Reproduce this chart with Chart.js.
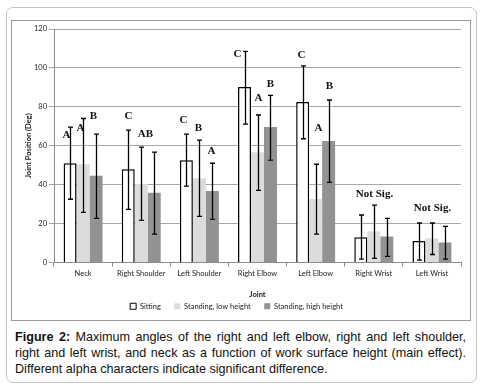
<!DOCTYPE html>
<html lang="en">
<head>
  <meta charset="UTF-8">
  <title>Joint Position Chart</title>
  <style>
    body { margin: 0; background: #fff; width: 482px; height: 392px; position: relative; overflow: hidden; }
    .frame { position: absolute; left: 6px; top: 7px; width: 469px; height: 374px; border: 1px solid #c4c4c4; border-radius: 7px; }
    .inner { position: absolute; left: 11px; top: 20px; width: 458px; height: 299px; border: 1px solid #9a9a9a; }
    .inner canvas { position: absolute; left: 0; top: 0; }
    .caption { position: absolute; left: 15px; top: 329px; width: 451px; font-family: "Liberation Sans", Arial, sans-serif; font-size: 12.6px; line-height: 16px; color: #111; }
    .caption div { text-align: justify; text-align-last: justify; white-space: nowrap; }
    .caption div.last { text-align-last: left; }
  </style>
</head>
<body>

  <div class="frame"></div>
  <div class="inner">
    <canvas id="barChart" width="458" height="299"></canvas>
  </div>
  <div class="caption">
    <div><b>Figure 2:</b> Maximum angles of the right and left elbow, right and left shoulder,</div>
    <div>right and left wrist, and neck as a function of work surface height (main effect).</div>
    <div class="last">Different alpha characters indicate significant difference.</div>
  </div>

  <script src="https://cdn.jsdelivr.net/npm/chart.js@4.4.0/dist/chart.umd.min.js"></script>
  <script>
    // data
    const joints = ['Neck', 'Right Shoulder', 'Left Shoulder', 'Right Elbow', 'Left Elbow', 'Right Wrist', 'Left Wrist'];
    const seriesNames = ['Sitting', 'Standing, low height', 'Standing, high height'];

    const sitting = [51.0, 47.9, 52.6, 90.2, 82.5, 13.0, 11.1];
    const standLow = [50.5, 40.4, 43.3, 56.7, 32.6, 16.0, 12.5];
    const standHigh = [44.6, 35.9, 36.7, 69.6, 62.4, 13.4, 10.3];

    // error bar ends
    const sittingHi = [69.6, 68.0, 66.0, 108.5, 101.0, 24.4, 20.3];
    const sittingLo = [32.5, 27.3, 39.3, 71.1, 63.6, 1.7, 1.2];
    const lowHi = [74.0, 59.3, 62.9, 75.8, 50.5, 29.5, 20.3];
    const lowLo = [25.8, 21.6, 23.7, 37.1, 14.6, 2.1, 4.1];
    const highHi = [66.0, 56.7, 51.0, 85.9, 83.5, 22.7, 18.6];
    const highLo = [22.7, 14.6, 22.2, 52.6, 41.2, 3.1, 1.7];

    // significance letters
    const sittingSig = ['A', 'C', 'C', 'C', 'C', '', ''];
    const lowSig = ['A', 'AB', 'B', 'A', 'A', 'Not Sig.', 'Not Sig.'];
    const highSig = ['B', '', 'A', 'B', 'B', '', ''];

    const yTicks = [0, 20, 40, 60, 80, 100, 120];

    // label placement relative to the top of each error bar (px)
    const sigDx = [
      [-4, 0, -3, -8, -2, 0, 0],
      [-3, 4, -1, 0, 2, 0, 0],
      [-3, 0, -1, 0, 0, 0, 0]
    ];
    const sigDy = [
      [8, -14, -14, 3, -11, 0, 0],
      [10, -13, -12, -17, -36, -11, -15],
      [-18, 0, -12, -11, -14, 0, 0]
    ];

    const errHi = [sittingHi, lowHi, highHi];
    const errLo = [sittingLo, lowLo, highLo];
    const sigs = [sittingSig, lowSig, highSig];

    const errorBars = {
      id: 'errorBars',
      afterDatasetsDraw(chart) {
        const ctx = chart.ctx;
        const y = chart.scales.y;
        ctx.save();
        chart.data.datasets.forEach((ds, i) => {
          const meta = chart.getDatasetMeta(i);
          meta.data.forEach((bar, j) => {
            const x = Math.round(bar.x) + 0.5;
            const yh = y.getPixelForValue(errHi[i][j]);
            const yl = y.getPixelForValue(errLo[i][j]);
            ctx.strokeStyle = '#000';
            ctx.lineWidth = 1.3;
            ctx.beginPath();
            ctx.moveTo(x, yh); ctx.lineTo(x, yl);
            ctx.moveTo(x - 2.5, yh); ctx.lineTo(x + 2.5, yh);
            ctx.moveTo(x - 2.5, yl); ctx.lineTo(x + 2.5, yl);
            ctx.stroke();

            const txt = sigs[i][j];
            if (txt) {
              ctx.fillStyle = '#111';
              ctx.font = 'bold 11px "Liberation Serif", "Times New Roman", serif';
              ctx.textAlign = 'center';
              ctx.textBaseline = 'middle';
              ctx.fillText(txt, x + sigDx[i][j], yh + sigDy[i][j]);
            }
          });
        });
        ctx.restore();
      }
    };

    const tickFont = { family: 'Lato, "Open Sans", sans-serif', size: 7.5 };

    new Chart(document.getElementById('barChart').getContext('2d'), {
      type: 'bar',
      data: {
        labels: joints,
        datasets: [
          {
            label: seriesNames[0],
            data: sitting,
            backgroundColor: '#ffffff',
            borderColor: '#000000',
            borderWidth: { top: 1.5, left: 1.5, right: 1.5, bottom: 0 },
            borderSkipped: 'bottom'
          },
          {
            label: seriesNames[1],
            data: standLow,
            backgroundColor: '#dcdcdc',
            borderWidth: 0
          },
          {
            label: seriesNames[2],
            data: standHigh,
            backgroundColor: '#929292',
            borderWidth: 0
          }
        ]
      },
      options: {
        responsive: false,
        animation: false,
        layout: { padding: { top: 8, right: 9, left: 0, bottom: 0 } },
        datasets: { bar: { categoryPercentage: 0.67, barPercentage: 1.0 } },
        scales: {
          x: {
            grid: { offset: true, drawOnChartArea: false, tickLength: 4, color: '#8c8c8c' },
            border: { color: '#8c8c8c', width: 1 },
            ticks: { font: tickFont, color: '#222', padding: 3, maxRotation: 0, autoSkip: false },
            title: { display: true, text: 'Joint', font: { family: tickFont.family, size: 7.5, weight: 'bold' }, color: '#222', padding: { top: 4, bottom: 1 } },
            afterFit: (s) => { s.height = 38; }
          },
          y: {
            min: 0,
            max: 120,
            afterBuildTicks: (s) => { s.ticks = yTicks.map(v => ({ value: v })); },
            grid: { color: '#a6a6a6', tickLength: 5 },
            border: { color: '#8c8c8c', width: 1 },
            ticks: { font: tickFont, color: '#222', padding: 2 },
            title: { display: true, text: 'Joint Position (Deg)', font: { family: tickFont.family, size: 7.5, weight: 'bold' }, color: '#222', padding: { top: 12, bottom: 0 } },
            afterFit: (s) => { s.width = 42; }
          }
        },
        plugins: {
          legend: {
            position: 'bottom',
            labels: {
              font: tickFont,
              color: '#222',
              boxWidth: 6,
              boxHeight: 6,
              padding: 2,
              generateLabels: (chart) => {
                const items = Chart.defaults.plugins.legend.labels.generateLabels(chart);
                items.forEach((it, k) => {
                  it.lineWidth = k === 0 ? 1 : 0;
                  if (k < items.length - 1) it.text = it.text + '\u00a0\u00a0\u00a0\u00a0\u00a0\u00a0';
                });
                return items;
              }
            }
          },
          tooltip: { enabled: false }
        }
      },
      plugins: [errorBars]
    });
  </script>
</body>
</html>
